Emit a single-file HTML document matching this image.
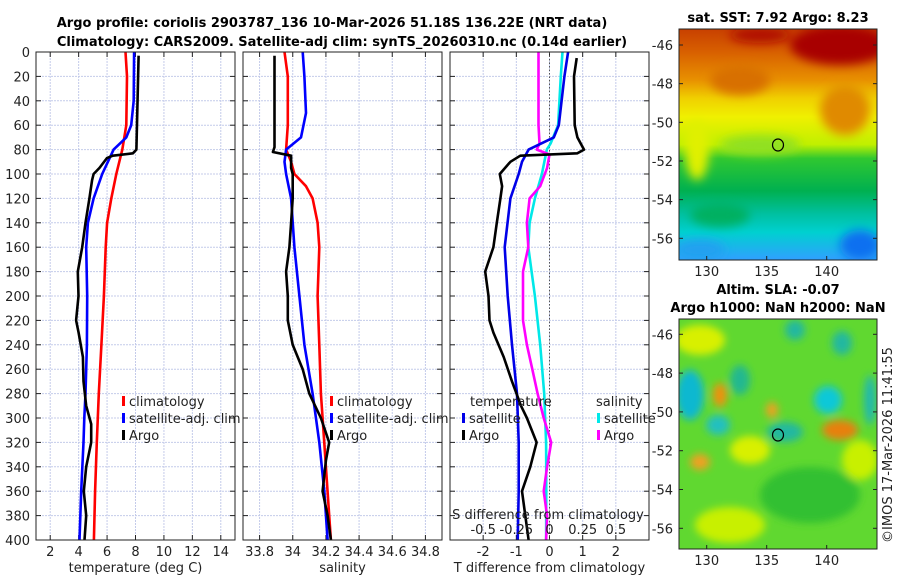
<!DOCTYPE html>
<html><head><meta charset="utf-8"><style>
html,body{margin:0;padding:0;background:#fff;}
svg{display:block;font-family:"DejaVu Sans","Liberation Sans",sans-serif;}
.t{font-size:13px;fill:#222;}
.b{font-size:13px;font-weight:bold;fill:#000;}
</style></head><body>
<svg id="c" width="900" height="580" viewBox="0 0 900 580" xmlns="http://www.w3.org/2000/svg">
<defs>
<filter id="bl" x="-20%" y="-20%" width="140%" height="140%"><feGaussianBlur stdDeviation="5"/></filter>
<filter id="bl2" x="-20%" y="-20%" width="140%" height="140%"><feGaussianBlur stdDeviation="4"/></filter>
<clipPath id="m1"><rect x="679" y="29" width="198" height="231"/></clipPath>
<clipPath id="m2"><rect x="679" y="319" width="198" height="230"/></clipPath>
<linearGradient id="sst" x1="0" y1="0" x2="0" y2="1">
<stop offset="0" stop-color="#c84000"/><stop offset="0.1" stop-color="#d86000"/><stop offset="0.22" stop-color="#e89000"/>
<stop offset="0.3" stop-color="#f0d000"/><stop offset="0.38" stop-color="#f0f000"/><stop offset="0.5" stop-color="#c0f000"/>
<stop offset="0.56" stop-color="#30c830"/><stop offset="0.7" stop-color="#00b050"/><stop offset="0.8" stop-color="#00c0a0"/>
<stop offset="0.88" stop-color="#00d0d0"/><stop offset="1" stop-color="#30a0ff"/>
</linearGradient>
</defs>
<text class="b" x="332" y="27" text-anchor="middle">Argo profile: coriolis 2903787_136 10-Mar-2026 51.18S 136.22E (NRT data)</text>
<text class="b" x="342" y="46" text-anchor="middle">Climatology: CARS2009. Satellite-adj clim: synTS_20260310.nc (0.14d earlier)</text>

<g id="map1">
<text class="b" x="778" y="22" text-anchor="middle">sat. SST: 7.92 Argo: 8.23</text>
<g clip-path="url(#m1)">
<rect x="679" y="29" width="198" height="231" fill="url(#sst)"/>
<g filter="url(#bl)">
<ellipse cx="840" cy="45" rx="50" ry="20" fill="#a80000"/>
<ellipse cx="760" cy="35" rx="30" ry="8" fill="#b01000"/>
<ellipse cx="845" cy="110" rx="25" ry="25" fill="#e08a00"/>
<ellipse cx="740" cy="80" rx="30" ry="15" fill="#d87000"/>
<ellipse cx="697" cy="150" rx="12" ry="30" fill="#e0f000"/>
<ellipse cx="760" cy="145" rx="40" ry="10" fill="#90e020"/>
<ellipse cx="720" cy="215" rx="30" ry="12" fill="#00b060"/>
<ellipse cx="860" cy="245" rx="20" ry="15" fill="#1070f0"/>
<ellipse cx="700" cy="250" rx="25" ry="10" fill="#20a0f0"/>
</g>
</g>
<rect x="679" y="29" width="198" height="231" fill="none" stroke="#222" stroke-width="1"/>
<ellipse cx="778" cy="145" rx="5.5" ry="6" fill="none" stroke="#000" stroke-width="1.2"/>
</g>

<g id="map2">
<text class="b" x="778" y="294" text-anchor="middle">Altim. SLA: -0.07</text>
<text class="b" x="778" y="312" text-anchor="middle">Argo h1000: NaN h2000: NaN</text>
<g clip-path="url(#m2)">
<rect x="679" y="319" width="198" height="230" fill="#60d830"/>
<g filter="url(#bl2)">
<ellipse cx="700" cy="340" rx="25" ry="15" fill="#d8f000"/>
<ellipse cx="750" cy="450" rx="20" ry="14" fill="#d8f000"/>
<ellipse cx="860" cy="460" rx="18" ry="20" fill="#c8f000"/>
<ellipse cx="810" cy="495" rx="50" ry="28" fill="#30c030"/>
<ellipse cx="730" cy="525" rx="35" ry="18" fill="#c8f000"/>
<ellipse cx="690" cy="395" rx="14" ry="25" fill="#10b8d0"/>
<ellipse cx="718" cy="425" rx="12" ry="10" fill="#20c0c0"/>
<ellipse cx="740" cy="380" rx="10" ry="15" fill="#20b890"/>
<ellipse cx="785" cy="432" rx="18" ry="10" fill="#20b8a0"/>
<ellipse cx="828" cy="400" rx="14" ry="14" fill="#10c8d8"/>
<ellipse cx="842" cy="343" rx="10" ry="12" fill="#20b8a0"/>
<ellipse cx="795" cy="330" rx="10" ry="10" fill="#20b8a0"/>
<ellipse cx="720" cy="395" rx="7" ry="12" fill="#f09010"/>
<ellipse cx="772" cy="410" rx="6" ry="8" fill="#f0a020"/>
<ellipse cx="840" cy="430" rx="18" ry="10" fill="#e88010"/>
<ellipse cx="700" cy="462" rx="10" ry="8" fill="#f0a020"/>
<ellipse cx="870" cy="400" rx="6" ry="25" fill="#20b8b0"/>
</g>
</g>
<rect x="679" y="319" width="198" height="230" fill="none" stroke="#222" stroke-width="1"/>
<ellipse cx="778" cy="435" rx="5.5" ry="6" fill="none" stroke="#000" stroke-width="1.2"/>
</g>
<text class="t" transform="translate(892,445) rotate(-90)" text-anchor="middle">©IMOS 17-Mar-2026 11:41:55</text>
</svg>
<script>
// ---- Data ----
const depthTicks=[0,20,40,60,80,100,120,140,160,180,200,220,240,260,280,300,320,340,360,380,400];
const tTicks=[2,4,6,8,10,12,14];
const sTicks=[33.8,34,34.2,34.4,34.6,34.8];
const sLabels=["33.8","34","34.2","34.4","34.6","34.8"];
const dTicks=[-2,-1,0,1,2];
const sdTicks=[-0.5,-0.25,0,0.25,0.5];
const sdLabels=["-0.5","-0.25","0","0.25","0.5"];
const mapLonTicks=[130,135,140];
const mapLatTicks=[-46,-48,-50,-52,-54,-56];

const climTDepth=[0,20,60,80,100,120,140,160,200,240,280,320,360,400];
const climT=[7.3,7.4,7.35,7.07,6.65,6.3,6.0,5.9,5.78,5.6,5.42,5.28,5.16,5.07];
const satTDepth=[0,40,60,70,80,90,100,120,140,160,200,240,280,300,320,360,400];
const satT=[7.9,7.87,7.7,7.35,6.46,6.06,5.66,5.05,4.65,4.53,4.6,4.58,4.48,4.4,4.34,4.18,4.06];
const argoTDepth=[3,80,83,85,87,95,100,105,120,140,160,180,200,220,230,250,270,290,305,320,340,360,380,400];
const argoT=[8.22,8.06,7.82,6.4,5.99,5.47,5.05,4.95,4.76,4.48,4.25,3.94,3.99,3.82,4.0,4.3,4.34,4.53,4.88,4.88,4.53,4.36,4.53,4.41];

const climSDepth=[0,20,60,80,90,100,110,120,140,160,200,240,280,300,340,380,400];
const climS=[33.95,33.97,33.97,33.96,33.99,34.01,34.08,34.12,34.15,34.16,34.15,34.16,34.17,34.18,34.20,34.22,34.23];
const satSDepth=[0,20,50,70,80,90,100,120,160,200,240,280,320,360,400];
const satS=[34.06,34.07,34.08,34.05,33.96,33.95,33.96,33.99,34.01,34.04,34.07,34.12,34.16,34.19,34.21];
const argoSDepth=[3,20,40,60,78,82,85,95,100,110,120,140,160,180,200,220,240,260,280,300,320,335,360,380,400];
const argoS=[33.89,33.89,33.89,33.89,33.89,33.88,33.99,33.99,34.0,34.0,34.0,33.99,33.98,33.96,33.97,33.97,34.0,34.06,34.1,34.17,34.22,34.2,34.18,34.21,34.23];

const dSatTDepth=[0,20,60,70,80,90,100,120,160,200,240,280,320,360,400];
const dSatT=[0.56,0.45,0.28,0.13,-0.63,-0.83,-0.93,-1.18,-1.35,-1.26,-1.13,-0.98,-0.93,-0.93,-0.96];
const dArgoTDepth=[5,20,60,70,80,83,85,90,100,110,120,140,160,180,200,220,230,250,270,290,300,320,340,360,380,400];
const dArgoT=[0.82,0.74,0.76,0.84,1.04,0.84,-0.88,-1.18,-1.5,-1.43,-1.48,-1.59,-1.69,-1.94,-1.84,-1.81,-1.69,-1.38,-1.13,-0.86,-0.68,-0.39,-0.58,-0.83,-0.73,-0.63];
const dSatSDepth=[0,20,60,75,80,100,120,140,160,200,240,280,320,360,400];
const dSatS=[0.098,0.085,0.065,0.008,-0.02,-0.057,-0.11,-0.15,-0.16,-0.11,-0.07,-0.04,-0.026,-0.024,-0.026];
const dArgoSDepth=[0,60,75,80,84,95,110,120,140,160,180,220,240,260,280,300,320,340,360,380,400];
const dArgoS=[-0.083,-0.083,-0.075,-0.096,0.0,-0.018,-0.07,-0.15,-0.17,-0.16,-0.2,-0.2,-0.17,-0.13,-0.09,-0.044,0.013,-0.018,-0.044,-0.018,-0.026];

// ---- Drawing ----
const svg=document.getElementById('c');
const NS='http://www.w3.org/2000/svg';
function mk(tag,attrs,parent){const e=document.createElementNS(NS,tag);for(const k in attrs)e.setAttribute(k,attrs[k]);(parent||svg).appendChild(e);return e;}
const Y0=52,Y1=540;
function yD(d){return Y0+(d/400)*(Y1-Y0);}
function lin(d0,d1,p0,p1){return v=>p0+(v-d0)/(d1-d0)*(p1-p0);}
const panels=[
 {x0:36,x1:235,sx:lin(1,15,36,235),ticks:tTicks,labels:tTicks.map(String),xlabel:'temperature (deg C)',name:'temperature-panel'},
 {x0:243,x1:442,sx:lin(33.7,34.9,243,442),ticks:sTicks,labels:sLabels,xlabel:'salinity',name:'salinity-panel'},
 {x0:450,x1:649,sx:lin(-3,3,450,649),ticks:dTicks,labels:dTicks.map(String),xlabel:'T difference from climatology',name:'difference-panel'}
];
panels.forEach((p,i)=>{
 const g=mk('g',{});
 
 
 depthTicks.forEach(d=>{
  const y=yD(d);
  if(d>0&&d<400){const gl=mk('line',{x1:p.x0,x2:p.x1,y1:y,y2:y,stroke:'#c4cbea','stroke-width':1,'stroke-dasharray':'2,1'},g);
  }
  mk('line',{x1:p.x0,x2:p.x0+5,y1:y,y2:y,stroke:'#222'},g);
  mk('line',{x1:p.x1-5,x2:p.x1,y1:y,y2:y,stroke:'#222'},g);
  if(i===0){const t=mk('text',{x:30,y:y+5,'text-anchor':'end',class:'t'},g);t.textContent=d;
   }
 });
 p.ticks.forEach((v,j)=>{
  const x=p.sx(v);
  const gl=mk('line',{x1:x,x2:x,y1:Y0,y2:Y1,stroke:'#c4cbea','stroke-width':1,'stroke-dasharray':'2,1'},g);
  
  mk('line',{x1:x,x2:x,y1:Y1-5,y2:Y1,stroke:'#222'},g);
  mk('line',{x1:x,x2:x,y1:Y0,y2:Y0+5,stroke:'#222'},g);
  const t=mk('text',{x:x,y:556,'text-anchor':'middle',class:'t'},g);t.textContent=p.labels[j];
  
 });
 const xl=mk('text',{x:(p.x0+p.x1)/2,y:572,'text-anchor':'middle',class:'t'},g);xl.textContent=p.xlabel;
 
});
function series(p,xs,ds,color,name,sx){
 const f=sx||p.sx;
 const pts=xs.map((v,k)=>f(v).toFixed(1)+','+yD(ds[k]).toFixed(1)).join(' ');
 const e=mk('polyline',{points:pts,fill:'none',stroke:color,'stroke-width':2.6,'stroke-linejoin':'round'});
 
 
}
const sdx=lin(-0.75,0.75,450,649);
const zl=mk('line',{x1:panels[2].sx(0),x2:panels[2].sx(0),y1:Y0,y2:Y1,stroke:'#555','stroke-dasharray':'1.5,2'});

series(panels[0],climT,climTDepth,'#ff0000','climatology-temperature-line');
series(panels[0],satT,satTDepth,'#0000ff','satellite-temperature-line');
series(panels[0],argoT,argoTDepth,'#000000','argo-temperature-line');
series(panels[1],climS,climSDepth,'#ff0000','climatology-salinity-line');
series(panels[1],satS,satSDepth,'#0000ff','satellite-salinity-line');
series(panels[1],argoS,argoSDepth,'#000000','argo-salinity-line');
series(panels[2],dSatS,dSatSDepth,'#00e8e8','satellite-salinity-diff-line',sdx);
series(panels[2],dArgoS,dArgoSDepth,'#ff00ff','argo-salinity-diff-line',sdx);
series(panels[2],dSatT,dSatTDepth,'#0000e8','satellite-temperature-diff-line');
series(panels[2],dArgoT,dArgoTDepth,'#000000','argo-temperature-diff-line');
panels.forEach(p=>{const r=mk('rect',{x:p.x0,y:Y0,width:p.x1-p.x0,height:Y1-Y0,fill:'none',stroke:'#222','stroke-width':1});
 });
const sdt=mk('text',{x:548,y:519,'text-anchor':'middle',class:'t'});sdt.textContent='S difference from climatology';

sdTicks.forEach((v,j)=>{const t=mk('text',{x:sdx(v),y:534,'text-anchor':'middle',class:'t'});t.textContent=sdLabels[j];
 });
function legItem(x,y,color,label,name){
 const g=mk('g',{});
 
 
 mk('rect',{x:x,y:y-10,width:3,height:10,fill:color},g);
 const t=mk('text',{x:x+7,y:y,class:'t'},g);t.textContent=label;
}
legItem(122,406,'#ff0000','climatology','legend-climatology');
legItem(122,423,'#0000ff','satellite-adj. clim','legend-satellite-adj');
legItem(122,440,'#000000','Argo','legend-argo');
legItem(330,406,'#ff0000','climatology','legend-climatology-s');
legItem(330,423,'#0000ff','satellite-adj. clim','legend-satellite-adj-s');
legItem(330,440,'#000000','Argo','legend-argo-s');
const lt=mk('text',{x:470,y:406,class:'t'});lt.textContent='temperature';
const ls=mk('text',{x:596,y:406,class:'t'});ls.textContent='salinity';
legItem(462,423,'#0000e8','satellite','legend-t-satellite');
legItem(462,440,'#000000','Argo','legend-t-argo');
legItem(597,423,'#00e8e8','satellite','legend-s-satellite');
legItem(597,440,'#ff00ff','Argo','legend-s-argo');
function mapAxes(top,bot,latY,nm){
 const lonX=lin(130,140,706.7,826.7);
 mapLonTicks.forEach(v=>{const x=lonX(v);
  mk('line',{x1:x,x2:x,y1:bot,y2:bot-4,stroke:'#222'});
  const t=mk('text',{x:x,y:bot+16,'text-anchor':'middle',class:'t'});t.textContent=v;
  });
 mapLatTicks.forEach(v=>{const y=latY(v);
  mk('line',{x1:679,x2:683,y1:y,y2:y,stroke:'#222'});
  mk('line',{x1:873,x2:877,y1:y,y2:y,stroke:'#222'});
  const t=mk('text',{x:673,y:y+5,'text-anchor':'end',class:'t'});t.textContent=v;
  });
}
mapAxes(29,260,lin(-46,-56,45,238.3),'sst-map');
mapAxes(319,549,lin(-46,-56,334.3,528.3),'sla-map');
</script>
</body></html>
